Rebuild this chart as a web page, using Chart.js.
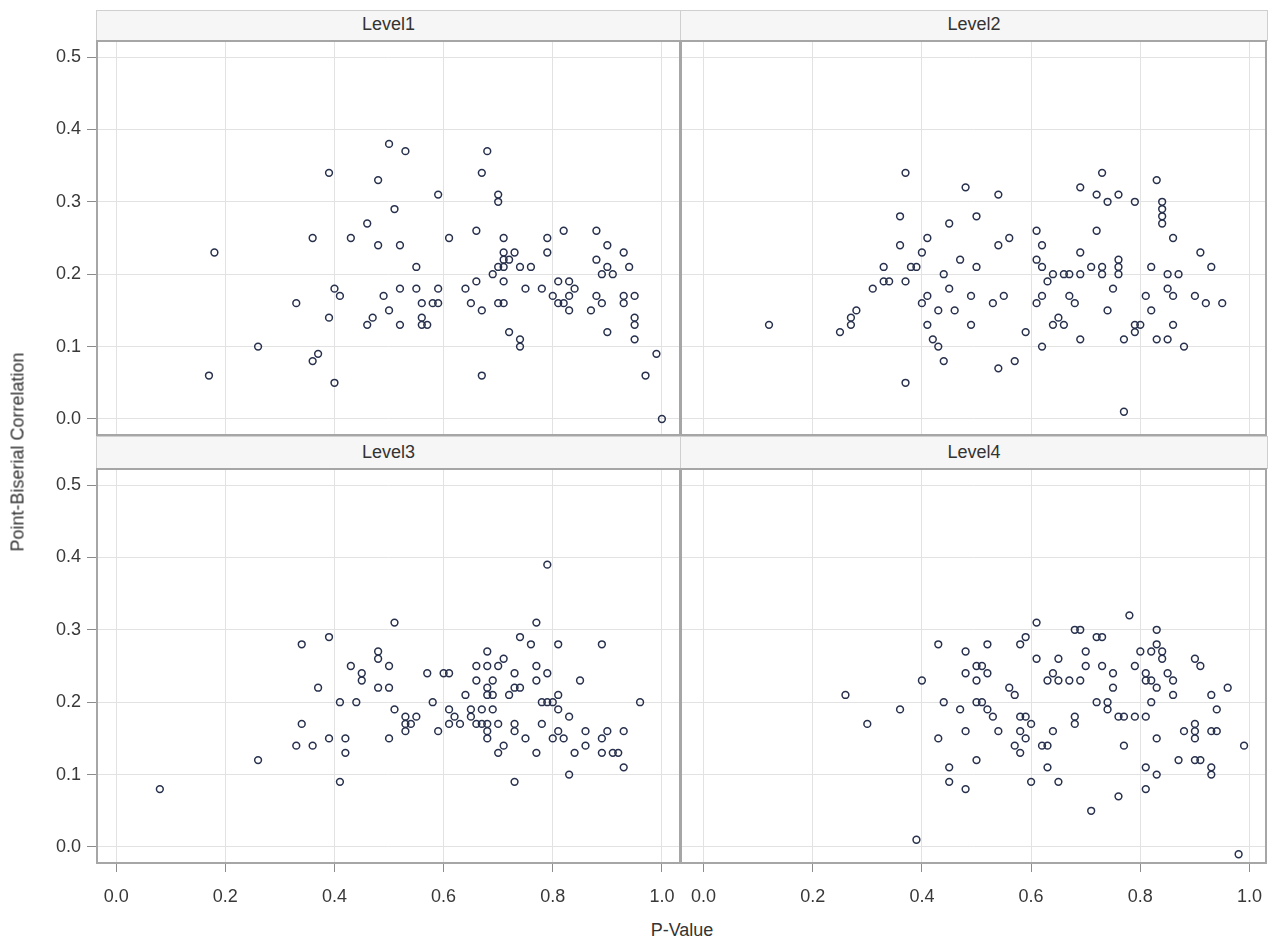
<!DOCTYPE html>
<html>
<head>
<meta charset="utf-8">
<script src="https://cdn.jsdelivr.net/npm/chart.js@4.4.1/dist/chart.umd.min.js"></script>
<style>
  html, body { margin: 0; padding: 0; background: #ffffff; }
  body { width: 1276px; height: 946px; position: relative; overflow: hidden;
         font-family: "Liberation Sans", Arial, sans-serif; color: #333; }
  canvas { position: absolute; }
  .hdr { position: absolute; box-sizing: border-box; border: 1px solid #cfcfcf; background: #f6f6f6;
         text-align: center; font-size: 18px; color: #333; }
  .title { position: absolute; font-size: 18px; color: #333; white-space: nowrap; }
</style>
</head>
<body>
<div class="hdr" style="left:96px;top:10px;width:585px;height:31px;line-height:26px;">Level1</div>
<div class="hdr" style="left:680px;top:10px;width:588px;height:31px;line-height:26px;">Level2</div>
<div class="hdr" style="left:96px;top:436px;width:585px;height:33px;line-height:31px;">Level3</div>
<div class="hdr" style="left:680px;top:436px;width:588px;height:33px;line-height:31px;">Level4</div>

<canvas id="c1" width="681" height="396" style="left:0px;top:40px;"></canvas>
<canvas id="c2" width="587" height="396" style="left:680px;top:40px;"></canvas>
<canvas id="c3" width="681" height="448" style="left:0px;top:468px;"></canvas>
<canvas id="c4" width="587" height="448" style="left:680px;top:468px;"></canvas>

<div class="title" id="ytitle" style="left:18px;top:452px;transform:translate(-50%,-50%) rotate(-90deg);">Point-Biserial Correlation</div>
<div class="title" id="xtitle" style="left:682px;top:930px;transform:translate(-50%,-50%);">P-Value</div>

<script>
// ---- data: [P-Value, Point-Biserial Correlation] ----
const panelLabels = ["Level1", "Level2", "Level3", "Level4"];
const xTickValues = [0.0, 0.2, 0.4, 0.6, 0.8, 1.0];
const yTickValues = [0.0, 0.1, 0.2, 0.3, 0.4, 0.5];

const level1 = [[0.17,0.06],[0.18,0.23],[0.26,0.10],[0.33,0.16],[0.36,0.25],[0.36,0.08],[0.37,0.09],[0.39,0.34],[0.39,0.14],[0.40,0.18],[0.40,0.05],[0.41,0.17],[0.43,0.25],[0.46,0.27],[0.46,0.13],[0.47,0.14],[0.48,0.33],[0.48,0.24],[0.49,0.17],[0.50,0.38],[0.50,0.15],[0.51,0.29],[0.52,0.24],[0.52,0.18],[0.52,0.13],[0.53,0.37],[0.55,0.21],[0.55,0.18],[0.56,0.16],[0.56,0.14],[0.56,0.13],[0.57,0.13],[0.58,0.16],[0.59,0.31],[0.59,0.18],[0.59,0.16],[0.61,0.25],[0.64,0.18],[0.65,0.16],[0.66,0.26],[0.66,0.19],[0.67,0.34],[0.67,0.15],[0.67,0.06],[0.68,0.37],[0.69,0.20],[0.70,0.31],[0.70,0.30],[0.70,0.21],[0.70,0.16],[0.71,0.25],[0.71,0.23],[0.71,0.22],[0.71,0.21],[0.71,0.19],[0.71,0.16],[0.72,0.22],[0.72,0.12],[0.73,0.23],[0.74,0.21],[0.74,0.11],[0.74,0.10],[0.75,0.18],[0.76,0.21],[0.78,0.18],[0.79,0.25],[0.79,0.23],[0.80,0.17],[0.81,0.19],[0.81,0.16],[0.82,0.26],[0.82,0.16],[0.83,0.19],[0.83,0.17],[0.83,0.15],[0.84,0.18],[0.87,0.15],[0.88,0.26],[0.88,0.22],[0.88,0.17],[0.89,0.20],[0.89,0.16],[0.90,0.24],[0.90,0.21],[0.90,0.12],[0.91,0.20],[0.93,0.23],[0.93,0.17],[0.93,0.16],[0.94,0.21],[0.95,0.17],[0.95,0.14],[0.95,0.13],[0.95,0.11],[0.97,0.06],[0.99,0.09],[1.00,0.00]];

const level2 = [[0.12,0.13],[0.25,0.12],[0.27,0.14],[0.27,0.13],[0.28,0.15],[0.31,0.18],[0.33,0.21],[0.33,0.19],[0.34,0.19],[0.36,0.28],[0.36,0.24],[0.37,0.34],[0.37,0.19],[0.37,0.05],[0.38,0.21],[0.39,0.21],[0.40,0.23],[0.40,0.16],[0.41,0.25],[0.41,0.17],[0.41,0.13],[0.42,0.11],[0.43,0.15],[0.43,0.10],[0.44,0.20],[0.44,0.08],[0.45,0.27],[0.45,0.18],[0.46,0.15],[0.47,0.22],[0.48,0.32],[0.49,0.17],[0.49,0.13],[0.50,0.28],[0.50,0.21],[0.53,0.16],[0.54,0.31],[0.54,0.24],[0.54,0.07],[0.55,0.17],[0.56,0.25],[0.57,0.08],[0.59,0.12],[0.61,0.26],[0.61,0.22],[0.61,0.16],[0.62,0.24],[0.62,0.21],[0.62,0.17],[0.62,0.10],[0.63,0.19],[0.64,0.20],[0.64,0.13],[0.65,0.14],[0.66,0.20],[0.66,0.13],[0.67,0.20],[0.67,0.17],[0.68,0.16],[0.69,0.32],[0.69,0.23],[0.69,0.20],[0.69,0.11],[0.71,0.21],[0.72,0.31],[0.72,0.26],[0.73,0.34],[0.73,0.21],[0.73,0.20],[0.74,0.30],[0.74,0.15],[0.75,0.18],[0.76,0.31],[0.76,0.22],[0.76,0.21],[0.76,0.20],[0.77,0.11],[0.77,0.01],[0.79,0.30],[0.79,0.13],[0.79,0.12],[0.80,0.13],[0.81,0.17],[0.82,0.21],[0.82,0.15],[0.83,0.33],[0.83,0.11],[0.84,0.30],[0.84,0.29],[0.84,0.28],[0.84,0.27],[0.85,0.20],[0.85,0.18],[0.85,0.11],[0.86,0.25],[0.86,0.17],[0.86,0.13],[0.87,0.20],[0.88,0.10],[0.90,0.17],[0.91,0.23],[0.92,0.16],[0.93,0.21],[0.95,0.16]];

const level3 = [[0.08,0.08],[0.26,0.12],[0.33,0.14],[0.34,0.28],[0.34,0.17],[0.36,0.14],[0.37,0.22],[0.39,0.29],[0.39,0.15],[0.41,0.20],[0.41,0.09],[0.42,0.15],[0.42,0.13],[0.43,0.25],[0.44,0.20],[0.45,0.24],[0.45,0.23],[0.48,0.27],[0.48,0.26],[0.48,0.22],[0.50,0.25],[0.50,0.22],[0.50,0.15],[0.51,0.31],[0.51,0.19],[0.53,0.18],[0.53,0.17],[0.53,0.16],[0.54,0.17],[0.55,0.18],[0.57,0.24],[0.58,0.20],[0.59,0.16],[0.60,0.24],[0.61,0.24],[0.61,0.19],[0.61,0.17],[0.62,0.18],[0.63,0.17],[0.64,0.21],[0.65,0.19],[0.65,0.18],[0.66,0.25],[0.66,0.23],[0.66,0.17],[0.67,0.19],[0.67,0.17],[0.68,0.27],[0.68,0.25],[0.68,0.22],[0.68,0.21],[0.68,0.17],[0.68,0.16],[0.68,0.15],[0.69,0.23],[0.69,0.21],[0.69,0.19],[0.70,0.25],[0.70,0.17],[0.70,0.13],[0.71,0.26],[0.71,0.14],[0.72,0.21],[0.73,0.24],[0.73,0.22],[0.73,0.17],[0.73,0.16],[0.73,0.09],[0.74,0.29],[0.74,0.22],[0.75,0.15],[0.76,0.28],[0.77,0.31],[0.77,0.25],[0.77,0.23],[0.77,0.13],[0.78,0.20],[0.78,0.17],[0.79,0.39],[0.79,0.24],[0.79,0.20],[0.80,0.20],[0.80,0.15],[0.81,0.28],[0.81,0.21],[0.81,0.19],[0.81,0.16],[0.82,0.15],[0.83,0.18],[0.83,0.10],[0.84,0.13],[0.85,0.23],[0.86,0.16],[0.86,0.14],[0.89,0.28],[0.89,0.15],[0.89,0.13],[0.90,0.16],[0.91,0.13],[0.92,0.13],[0.93,0.16],[0.93,0.11],[0.96,0.20]];

const level4 = [[0.26,0.21],[0.30,0.17],[0.36,0.19],[0.39,0.01],[0.40,0.23],[0.43,0.28],[0.43,0.15],[0.44,0.20],[0.45,0.11],[0.45,0.09],[0.47,0.19],[0.48,0.27],[0.48,0.24],[0.48,0.16],[0.48,0.08],[0.50,0.25],[0.50,0.23],[0.50,0.20],[0.50,0.12],[0.51,0.25],[0.51,0.20],[0.52,0.28],[0.52,0.24],[0.52,0.19],[0.53,0.18],[0.54,0.16],[0.56,0.22],[0.57,0.21],[0.57,0.14],[0.58,0.28],[0.58,0.18],[0.58,0.16],[0.58,0.13],[0.59,0.29],[0.59,0.18],[0.59,0.15],[0.60,0.17],[0.60,0.09],[0.61,0.31],[0.61,0.26],[0.62,0.14],[0.63,0.23],[0.63,0.14],[0.63,0.11],[0.64,0.24],[0.64,0.16],[0.65,0.26],[0.65,0.23],[0.65,0.09],[0.67,0.23],[0.68,0.30],[0.68,0.18],[0.68,0.17],[0.69,0.30],[0.69,0.23],[0.70,0.27],[0.70,0.25],[0.71,0.05],[0.72,0.29],[0.72,0.20],[0.73,0.29],[0.73,0.25],[0.74,0.20],[0.74,0.19],[0.75,0.24],[0.75,0.22],[0.76,0.18],[0.76,0.07],[0.77,0.18],[0.77,0.14],[0.78,0.32],[0.79,0.25],[0.79,0.18],[0.80,0.27],[0.81,0.24],[0.81,0.23],[0.81,0.18],[0.81,0.11],[0.81,0.08],[0.82,0.27],[0.82,0.23],[0.82,0.20],[0.83,0.30],[0.83,0.28],[0.83,0.22],[0.83,0.15],[0.83,0.10],[0.84,0.27],[0.84,0.26],[0.85,0.24],[0.86,0.23],[0.86,0.21],[0.87,0.12],[0.88,0.16],[0.90,0.26],[0.90,0.17],[0.90,0.16],[0.90,0.15],[0.90,0.12],[0.91,0.25],[0.91,0.12],[0.93,0.21],[0.93,0.16],[0.93,0.11],[0.93,0.10],[0.94,0.19],[0.94,0.16],[0.96,0.22],[0.98,-0.01],[0.99,0.14]];

const FONT = '"Liberation Sans", Arial, sans-serif';
Chart.defaults.font.family = FONT;

const framePlugin = {
  id: 'frame',
  afterDraw(chart) {
    const a = chart.chartArea, ctx = chart.ctx;
    ctx.save();
    ctx.strokeStyle = '#a6a6a6';
    ctx.lineWidth = 2;
    ctx.strokeRect(a.left + 1, a.top + 1, a.right - a.left - 2, a.bottom - a.top - 2);
    ctx.restore();
  }
};

function toXY(arr) { return arr.map(p => ({ x: p[0], y: p[1] })); }

function zeroPad(s) { s.paddingTop = 0; s.paddingBottom = 0; s.paddingLeft = 0; s.paddingRight = 0; }

function makePanel(idx, pts, showY, showX, xmin, xmax) {
  const id = 'c' + (idx + 1);
  new Chart(document.getElementById(id), {
    type: 'scatter',
    data: {
      datasets: [{
        label: panelLabels[idx],
        data: toXY(pts),
        pointRadius: 3.4,
        pointBorderWidth: 1.5,
        pointBorderColor: '#27304c',
        pointBackgroundColor: 'rgba(255,255,255,0)',
        showLine: false
      }]
    },
    options: {
      responsive: false,
      animation: false,
      devicePixelRatio: 1,
      layout: { padding: 0, autoPadding: false },
      plugins: { legend: { display: false }, tooltip: { enabled: false } },
      scales: {
        x: {
          type: 'linear', min: xmin, max: xmax,
          afterBuildTicks: s => { s.ticks = xTickValues.map(v => ({ value: v })); },
          afterFit: s => { s.height = showX ? 52 : 0; zeroPad(s); },
          ticks: {
            display: showX, includeBounds: false, padding: 14,
            font: { size: 18 }, color: '#383838',
            callback: v => Number(v).toFixed(1), maxRotation: 0, autoSkip: false
          },
          grid: { color: '#e2e2e2', lineWidth: 1, drawTicks: showX, tickLength: 8, tickColor: '#8c8c8c' },
          border: { display: false }
        },
        y: {
          type: 'linear', min: -0.0235, max: 0.5235,
          afterBuildTicks: s => { s.ticks = yTickValues.map(v => ({ value: v })); },
          afterFit: s => { s.width = showY ? 96 : 0; zeroPad(s); },
          ticks: {
            display: showY, includeBounds: false, padding: 6,
            font: { size: 18 }, color: '#383838',
            callback: v => Number(v).toFixed(1), autoSkip: false
          },
          grid: { color: '#e2e2e2', lineWidth: 1, drawTicks: showY, tickLength: 9, tickColor: '#8c8c8c' },
          border: { display: false }
        }
      }
    },
    plugins: [framePlugin]
  });
}

makePanel(0, level1, true, false, -0.037, 1.035);
makePanel(1, level2, false, false, -0.043, 1.032);
makePanel(2, level3, true, true, -0.037, 1.035);
makePanel(3, level4, false, true, -0.043, 1.032);
</script>
</body>
</html>
